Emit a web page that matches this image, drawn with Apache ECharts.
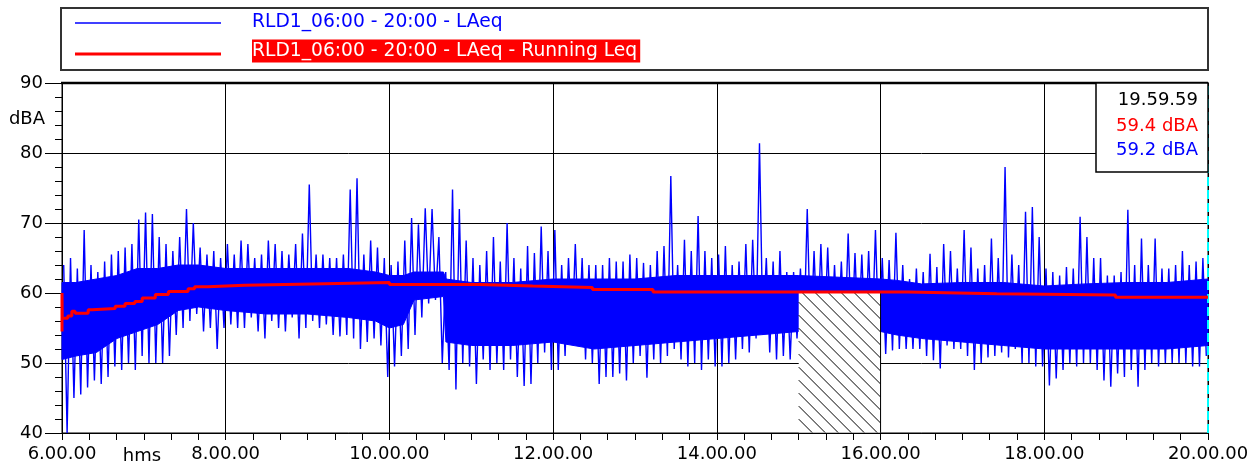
<!DOCTYPE html>
<html>
<head>
<meta charset="utf-8">
<title>RLD1 LAeq 06:00 - 20:00</title>
<script src="https://cdn.jsdelivr.net/npm/echarts@6/dist/echarts.min.js"></script>
<style>
html, body { margin: 0; padding: 0; background: #fff; }
#chart { width: 1257px; height: 474px; }
</style>
</head>
<body>
<div id="chart"></div>
<script>
// LAeq, max and min of every 5 minutes from 6.00 to 20.00 (168 buckets)
var laeqHigh = [
    64, 65, 63.5, 69, 64, 63, 64.5, 65.5, 66, 66.5, 67, 70.5, 71.5, 71.3, 68, 67, 66, 68, 72, 70, 66.5, 65.5, 66, 65,
    67, 65.5, 67.5, 67, 65, 65.5, 67.5, 67, 66, 65.5, 67, 68.5, 75.5, 65.5, 65.5, 65, 65, 65.5, 74.8, 76.4, 65.5, 67.5, 66.5, 65,
    64, 64.5, 67.5, 70.7, 69.8, 72.1, 72, 68, 63, 74.8, 72, 67.5, 65, 64, 66, 68, 64.5, 70, 65, 63.5, 66.7, 65.7, 69.5, 66,
    69, 64, 65, 67, 65, 64, 64, 64, 65, 64.5, 64.5, 65.5, 65, 64.3, 64, 66, 66.7, 76.7, 64, 67.6, 66, 71, 66, 65,
    65.5, 66.7, 64, 64.5, 67, 67.6, 81.4, 65, 64.5, 66, 63, 63, 63.5, 72, 66, 67, 66.5, 64, 64.5, 68.5, 65.7, 65.5, 66, 69,
    65, 64.7, 68.6, 64, 62, 63.5, 63, 65.6, 63.7, 67, 66, 63.5, 69, 66.5, 63.5, 64, 67.8, 65, 78, 65.5, 64, 71.6, 72.3, 68,
    63.5, 63, 62.5, 63.7, 63.5, 70.9, 68, 65, 65, 62.5, 62.5, 63, 71.9, 64, 67.8, 64, 67.8, 63.5, 63.5, 64, 66, 64, 64.5, 65
];
var laeqLow = [
    40, 45, 45.5, 46.5, 47.5, 47, 48, 49.5, 49, 50, 49, 51, 50, 50, 50, 51, 54, 55, 56, 57, 54.5, 55, 52, 55,
    55.5, 55, 55, 56.5, 54.5, 53.5, 56, 55, 54.5, 56.5, 53.5, 55, 56, 55, 55.5, 54, 53.8, 54, 53.5, 52, 53, 53.5, 52.5, 48,
    49.5, 51, 52, 54, 56.5, 58.5, 59, 50, 49, 46.2, 50, 49.5, 47, 50.5, 49, 50, 49, 50.5, 48, 46.7, 47, 50, 51.5, 49,
    49, 51, 53, 52.5, 50.5, 50, 47, 48, 48, 48.5, 47.5, 50, 51, 47.9, 50.5, 50, 51, 52, 50.5, 49.5, 50, 49, 50.5, 49.5,
    49.5, 50, 50.5, 52, 51.5, 53.5, 54, 51.5, 50.5, 51, 50.5, 53.5, 53, 53, 53, 53, 53, 53, 53, 53, 53, 53, 53, 53,
    51.3, 51.8, 52, 52, 52, 52, 51, 50.4, 49.2, 52.5, 52, 52, 51, 49, 50, 50.8, 51, 51.5, 50.8, 52, 50, 50, 49.5, 49.5,
    46.8, 47.8, 49, 50, 49.5, 50, 50, 49, 47.5, 46.6, 48.5, 48, 49, 46.6, 49, 50, 49.5, 50, 50, 50, 50, 49.5, 49.5, 51
];
// dense body of the trace: time (hours), lower and upper edge
var bandTime = [6.0, 6.17, 6.42, 6.67, 6.92, 7.17, 7.42, 7.67, 8.0, 8.5, 9.0, 9.5, 9.83, 10.0, 10.17, 10.3, 10.66,
    10.69, 11.0, 11.5, 12.0, 12.5, 13.0, 13.5, 14.0, 14.5, 15.0, 16.0, 16.2, 16.5, 17.0, 17.5, 18.0, 18.5, 19.0, 19.5, 20.0];
var bandLow = [50.5, 51, 51.5, 53.5, 54.5, 55.5, 57.5, 58, 57.5, 57, 57, 56.5, 56, 55, 55.5, 59, 59.5,
    53, 52.5, 52.5, 53, 52, 52.5, 53, 53.5, 54, 54.5, 54.5, 54, 53.5, 53, 52.5, 52, 52, 52, 52, 52.5];
var bandHigh = [61.5, 61.5, 62, 62.5, 63.5, 63.5, 64, 64, 63.5, 63.5, 63.5, 63.5, 63, 62.5, 62.5, 63, 63,
    62, 61.5, 61.5, 62, 62, 62, 62.5, 62.5, 62.5, 62.5, 62, 61.8, 61.3, 61.5, 61.5, 61, 61.3, 61.5, 61.5, 62];
// running Leq (hours, dBA)
var leqTime = [6.0, 6.0, 6.003, 6.07, 6.12, 6.16, 6.32, 6.37, 6.65, 6.77, 6.89, 6.98, 7.14, 7.30, 7.54, 7.62, 7.78,
    8.23, 9.05, 10.0, 11.1, 11.75, 12.48, 13.22, 16.33, 17.42, 18.87, 20.0];
var leqValue = [54.5, 60.0, 56.4, 56.7, 57.4, 57.1, 57.6, 57.8, 58.1, 58.5, 58.8, 59.3, 59.8, 60.2, 60.6, 60.9, 61.1,
    61.3, 61.5, 61.2, 61.0, 60.8, 60.5, 60.15, 59.9, 59.7, 59.4, 59.4];
// excluded period
var gapFrom = [15];
var gapTo = [16];
var gapTop = [60];
// cursor readout
var cursorTime = 20;
var cursorText = ['19.59.59', '59.4 dBA', '59.2 dBA'];
var seriesNames = ['RLD1_06:00 - 20:00 - LAeq', 'RLD1_06:00 - 20:00 - LAeq - Running Leq'];

var FONT = '18px "DejaVu Sans"';
var BLUE = '#0000ff';
var RED = '#ff0000';

var blueData = [];
for (var i = 0; i < laeqHigh.length; i++) {
    var t0 = 6 + i * 5 / 60;
    blueData.push([t0 + 1.25 / 60, laeqHigh[i]]);
    blueData.push([t0 + 3.75 / 60, laeqLow[i]]);
}
var bandData = [];
for (var j = 0; j < bandTime.length; j++) {
    bandData.push([bandTime[j], bandLow[j], bandHigh[j]]);
}
var leqData = [];
for (var k = 0; k < leqTime.length; k++) {
    leqData.push([leqTime[k], leqValue[k]]);
}
var gapData = [];
for (var g = 0; g < gapFrom.length; g++) {
    gapData.push([gapFrom[g], gapTo[g], gapTop[g]]);
}

// the dense body of the trace as one polygon through the band points
function renderBand(params, api) {
    if (params.dataIndex !== 0) return null;
    var top = [], bottom = [];
    for (var b = 0; b < bandData.length; b++) {
        top.push(api.coord([bandData[b][0], bandData[b][2]]));
        bottom.push(api.coord([bandData[b][0], bandData[b][1]]));
    }
    return {
        type: 'polygon',
        shape: { points: top.concat(bottom.reverse()) },
        style: { fill: BLUE, stroke: BLUE, lineWidth: 1 }
    };
}

// white box with hatching over the excluded period
function renderGap(params, api) {
    var p1 = api.coord([api.value(0), api.value(2)]);
    var p2 = api.coord([api.value(1), 40]);
    var x0 = p1[0], y0 = p1[1], x1 = p2[0], y1 = p2[1] - 0.5;
    var children = [{
        type: 'rect',
        shape: { x: x0, y: y0, width: x1 - x0, height: y1 - y0 },
        style: { fill: '#fff' }
    }];
    for (var c = y0 - x1; c < y1 - x0; c += 13) {
        var xs = Math.max(x0, y0 - c);
        var xe = Math.min(x1, y1 - c);
        if (xe - xs < 1) continue;
        children.push({
            type: 'line',
            shape: { x1: xs, y1: xs + c, x2: xe, y2: xe + c },
            style: { stroke: '#000', lineWidth: 1 }
        });
    }
    children.push({
        type: 'line',
        shape: { x1: x1, y1: y0, x2: x1, y2: y1 },
        style: { stroke: '#000', lineWidth: 1 }
    });
    return { type: 'group', children: children };
}

var myChart = echarts.init(document.getElementById('chart'));
var option = {
    animation: false,
    backgroundColor: '#fff',
    grid: {
        left: 62, right: 49, top: 83, bottom: 41,
        show: true, borderColor: '#000', borderWidth: 1
    },
    xAxis: {
        type: 'value', min: 6, max: 20, interval: 2,
        axisLine: { lineStyle: { color: '#000', width: 1 } },
        axisTick: { length: 7, lineStyle: { color: '#000' } },
        minorTick: { show: true, splitNumber: 6, length: 7, lineStyle: { color: '#000' } },
        axisLabel: {
            margin: 12, color: '#000', fontFamily: 'DejaVu Sans', fontSize: 18,
            showMinLabel: true, showMaxLabel: true,
            formatter: function (v) { return v + '.00.00'; }
        },
        splitLine: { show: true, lineStyle: { color: '#000', width: 1 } }
    },
    yAxis: {
        type: 'value', min: 40, max: 90, interval: 10,
        axisLine: { show: true, lineStyle: { color: '#000', width: 1 } },
        axisTick: { show: true, length: 17, lineStyle: { color: '#000' } },
        minorTick: { show: true, splitNumber: 5, length: 7, lineStyle: { color: '#000' } },
        axisLabel: { margin: 19, color: '#000', fontFamily: 'DejaVu Sans', fontSize: 18 },
        splitLine: { show: true, lineStyle: { color: '#000', width: 1 } }
    },
    series: [
        {
            type: 'custom', name: 'band', z: 2,
            renderItem: renderBand, data: bandData, silent: true
        },
        {
            type: 'line', name: seriesNames[0], z: 3,
            data: blueData, showSymbol: false, symbol: 'none',
            lineStyle: { color: BLUE, width: 1.4 }
        },
        {
            type: 'custom', name: 'gap', z: 4,
            renderItem: renderGap, data: gapData, silent: true
        },
        {
            type: 'line', name: seriesNames[1], z: 5,
            data: leqData, step: 'end', showSymbol: false, symbol: 'none',
            lineStyle: { color: RED, width: 3 },
            markLine: {
                silent: true, symbol: 'none', label: { show: false },
                lineStyle: { color: '#00ffff', type: [9, 4], width: 2 },
                data: [{ xAxis: cursorTime }]
            }
        }
    ],
    graphic: [
        // legend
        { type: 'rect', z: 100, shape: { x: 61, y: 8, width: 1147, height: 62 },
          style: { fill: '#fff', stroke: '#333', lineWidth: 2 } },
        { type: 'line', z: 101, shape: { x1: 75, y1: 23, x2: 221, y2: 23 }, style: { stroke: BLUE, lineWidth: 1.5 } },
        { type: 'line', z: 101, shape: { x1: 75, y1: 54, x2: 221, y2: 54 }, style: { stroke: RED, lineWidth: 3 } },
        { type: 'text', z: 101, x: 252, y: 22,
          style: { text: seriesNames[0], fill: BLUE, font: '18.7px "DejaVu Sans"', textVerticalAlign: 'middle' } },
        { type: 'text', z: 101, x: 252, y: 51,
          style: { text: seriesNames[1], fill: '#fff', font: '18.7px "DejaVu Sans"', textVerticalAlign: 'middle',
                   backgroundColor: RED, padding: [2, 3, 2, 0] } },
        // thick top border
        { type: 'line', z: 100, shape: { x1: 61, y1: 83, x2: 1208, y2: 83 }, style: { stroke: '#000', lineWidth: 2.5 } },
        // cursor readout
        { type: 'rect', z: 100, shape: { x: 1096, y: 83, width: 112, height: 89 },
          style: { fill: '#fff', stroke: '#000', lineWidth: 1.5 } },
        { type: 'text', z: 101, x: 1198, y: 100,
          style: { text: cursorText[0], fill: '#000', font: FONT, textAlign: 'right', textVerticalAlign: 'middle' } },
        { type: 'text', z: 101, x: 1198, y: 126,
          style: { text: cursorText[1], fill: RED, font: FONT, textAlign: 'right', textVerticalAlign: 'middle' } },
        { type: 'text', z: 101, x: 1198, y: 150,
          style: { text: cursorText[2], fill: BLUE, font: FONT, textAlign: 'right', textVerticalAlign: 'middle' } },
        // axis units
        { type: 'text', z: 100, x: 45, y: 119,
          style: { text: 'dBA', fill: '#000', font: FONT, textAlign: 'right', textVerticalAlign: 'middle' } },
        { type: 'text', z: 100, x: 142, y: 456,
          style: { text: 'hms', fill: '#000', font: FONT, textAlign: 'center', textVerticalAlign: 'middle' } }
    ]
};
myChart.setOption(option);
</script>
</body>
</html>
